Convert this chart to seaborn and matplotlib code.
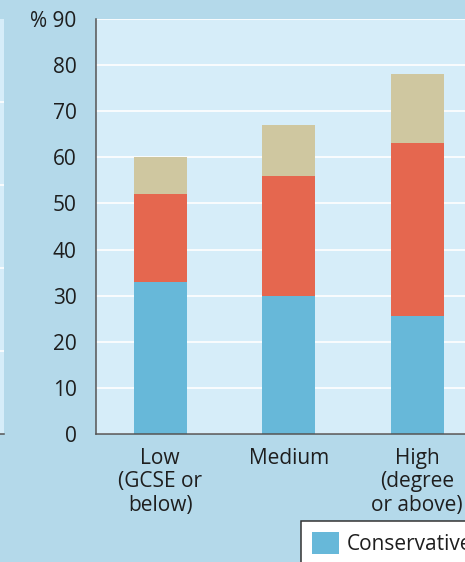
import matplotlib
matplotlib.use("Agg")
import matplotlib.pyplot as plt
from matplotlib.patches import Patch
from matplotlib.ticker import FixedLocator
import numpy as np
import pandas as pd
import seaborn as sns

# Education level categories and vote share (%) for each party
categories = ["Low\n(GCSE or\nbelow)", "Medium", "High\n(degree\nor above)"]
parties = ["Conservative", "Labour", "Liberal Democrat"]
conservative = [33, 30, 25.5]
labour = [19, 26, 37.5]
lib_dem = [8, 11, 15]

y_ticks = [0, 10, 20, 30, 40, 50, 60, 70, 80, 90]
y_tick_labels = ["0", "10", "20", "30", "40", "50", "60", "70", "80", "% 90"]

party_colors = ["#67b8d9", "#e5674f", "#cfc7a0"]
outer_bg = "#b4d9ea"
inner_bg = "#d6edf9"
axis_col = "#555555"
text_col = "#1e1e1e"
font_size = 15

sns.set_style("white")
plt.rcParams["font.family"] = ["Open Sans", "DejaVu Sans"]

# cumulative tops for stacking
shares = np.array([conservative, labour, lib_dem])
tops = np.cumsum(shares, axis=0)
frames = []
for party, top in zip(parties, tops):
    frames.append(pd.DataFrame({"level": categories, "party": party, "top": top}))
df = pd.concat(frames, ignore_index=True)

W, H = 465, 562
fig = plt.figure(figsize=(W / 100, H / 100), dpi=100, facecolor=outer_bg)

left_px, right_px = 96, 96 + 3 * 128.5
bottom_px, top_px = 434, 19
ax = fig.add_axes([left_px / W, 1 - bottom_px / H,
                   (right_px - left_px) / W, (bottom_px - top_px) / H])
ax.set_facecolor(inner_bg)

# neighbouring panel, mostly beyond the left edge
ax0 = fig.add_axes([-0.4, 1 - bottom_px / H, 0.4 + 3.5 / W, (bottom_px - top_px) / H])
ax0.set_facecolor(inner_bg)
ax0.set_xlim(0, 1)
ax0.set_ylim(0, 50)
ax0.yaxis.set_major_locator(FixedLocator([10, 20, 30, 40]))
ax0.grid(axis="y", color="white", linewidth=1.2)
ax0.xaxis.set_major_locator(FixedLocator([1.0]))
ax0.tick_params(axis="x", length=9, width=1.1, color=axis_col, labelbottom=False)
ax0.tick_params(axis="y", length=0, labelleft=False)
for s in ["top", "right", "left"]:
    ax0.spines[s].set_visible(False)
ax0.spines["bottom"].set_color(axis_col)
ax0.spines["bottom"].set_linewidth(1.1)

# stacked bars: draw tallest (cumulative) first
for party, color in reversed(list(zip(parties, party_colors))):
    sns.barplot(data=df[df["party"] == party], x="level", y="top", order=categories,
                color=color, saturation=1, width=0.41, errorbar=None,
                linewidth=0, ax=ax)

ax.set_xlim(-0.5, 2.5)
ax.set_ylim(0, 90)
ax.set_axisbelow(True)
ax.yaxis.set_major_locator(FixedLocator(y_ticks))
ax.set_yticklabels(y_tick_labels)
ax.grid(axis="y", color="white", linewidth=1.2)
ax.grid(axis="x", visible=False)
ax.set_xlabel("")
ax.set_ylabel("")

ax.xaxis.set_minor_locator(FixedLocator([-0.5, 0.5, 1.5, 2.5]))
ax.tick_params(axis="x", which="major", length=0, pad=10, labelsize=font_size,
               labelcolor=text_col)
ax.tick_params(axis="x", which="minor", length=9, width=1.1, color=axis_col,
               direction="out")
ax.tick_params(axis="y", length=9, width=1.1, color=axis_col, pad=5,
               labelsize=font_size, labelcolor=text_col, direction="out")
for lbl in ax.get_xticklabels():
    lbl.set_linespacing(1.15)

for s in ["top", "right"]:
    ax.spines[s].set_visible(False)
for s in ["left", "bottom"]:
    ax.spines[s].set_color(axis_col)
    ax.spines[s].set_linewidth(1.1)

# legend: only the first key fits inside the canvas
handles = [Patch(facecolor=party_colors[0], edgecolor="none")]
leg = fig.legend(handles, parties[:1], loc="upper left",
                 bbox_to_anchor=(301 / W, 1 - 521 / H),
                 frameon=True, fancybox=False, facecolor="white", framealpha=1,
                 edgecolor="#333333", fontsize=font_size, handlelength=1.25,
                 handleheight=1.25, borderpad=0.55, handletextpad=0.4,
                 borderaxespad=0)
leg.get_frame().set_linewidth(1.1)
for t in leg.get_texts():
    t.set_color(text_col)

fig.savefig("out.png", dpi=100, facecolor=outer_bg)
